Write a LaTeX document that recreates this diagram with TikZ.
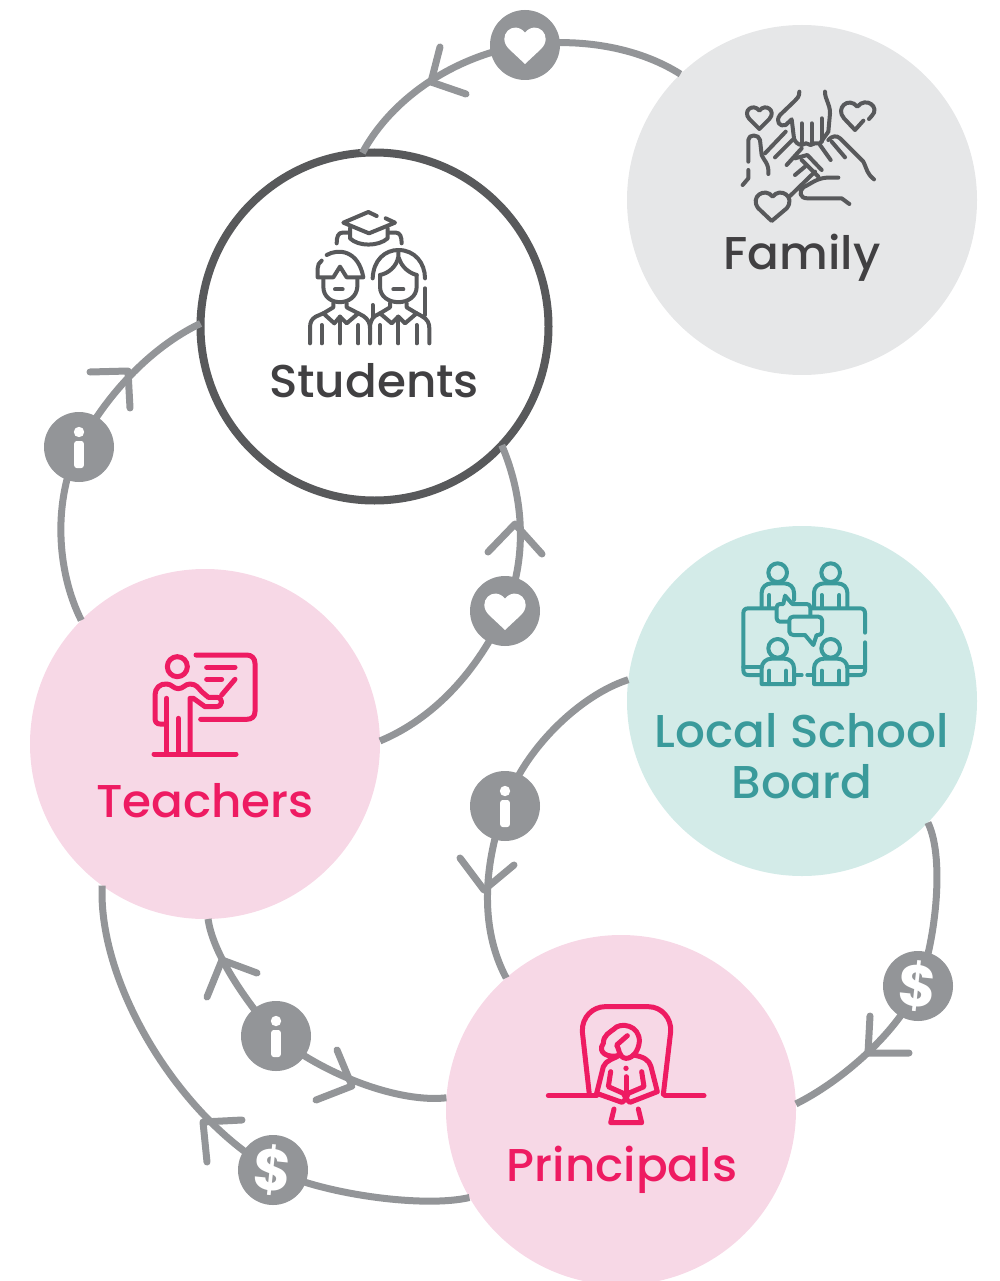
\documentclass[tikz,border=0pt]{standalone}
\usepackage{fontspec}
\setmainfont{Poppins}
\newfontfamily\capfont[FakeStretch=1.02]{Poppins Medium}
\definecolor{conn}{HTML}{939598}
\definecolor{ink}{HTML}{414042}
\definecolor{iconink}{HTML}{58595B}
\definecolor{famfill}{HTML}{E6E7E8}
\definecolor{pinkfill}{HTML}{F7D8E6}
\definecolor{pinkink}{HTML}{EE1B62}
\definecolor{tealfill}{HTML}{D3EBE8}
\definecolor{tealink}{HTML}{3A9A9B}
\tikzset{
  every node/.style={inner sep=0pt,outer sep=0pt},
  actor/.style={circle,minimum size=350pt},
  caption/.style={font=\capfont\fontsize{46}{51}\selectfont,align=center},
  link/.style={draw=conn,line width=7pt},
  head/.style={draw=conn,line width=7pt,line cap=round,line join=round},
  badge/.style={circle,fill=conn,minimum size=70pt},
  dollar/.style={text=white,font=\fontsize{58}{58}\selectfont\bfseries},
  icon/.style={line width=4pt,line cap=round,line join=round,fill=none},
  zoomed/.style={x=0.33333pt,y=-0.33333pt},
}
\newcommand{\heartmark}[1]{%
  \fill[white,shift={(#1)}] (0,19) -- (-16,4) .. controls (-29,-9) and (-12,-26) .. (0,-12.5) .. controls (12,-26) and (29,-9) .. (16,4) -- cycle;}
\newcommand{\infomark}[1]{%
  \fill[white,shift={(#1)}] (0,-15) circle[radius=5.2];
  \fill[white,rounded corners=2.5pt,shift={(#1)}] (-4.8,-6) rectangle (4.8,21);}
\begin{document}
\begin{tikzpicture}[x=1pt,y=-1pt]
\useasboundingbox (0,0) rectangle (1000,1281);

% actors
\node[actor,fill=famfill] (family) at (802,200) {};
\node[actor,fill=white,draw=iconink,line width=8pt,minimum size=348pt] (students) at (374.5,326.5) {};
\node[actor,fill=pinkfill] (teachers) at (205,744) {};
\node[actor,fill=tealfill] (board) at (802,701) {};
\node[actor,fill=pinkfill] (principals) at (621,1110) {};

% badge positions
\coordinate (bh1) at (525,45);
\coordinate (bi1) at (79,447);
\coordinate (bh2) at (505,611);
\coordinate (bi2) at (505,806);
\coordinate (bd1) at (918,986);
\coordinate (bi3) at (276,1036);
\coordinate (bd2) at (273,1170);

% links
\draw[link] (family.134) .. controls (636,46) and (577,38) .. (bh1) .. controls (461,54) and (394,94) .. (students.94);
\draw[link] (teachers.135) .. controls (56,570) and (53,499) .. (bi1) .. controls (104,398) and (149,348) .. (students.179);
\draw[link] (teachers.1.3) .. controls (435,718) and (478,670) .. (bh2) .. controls (527,560) and (525,500) .. (students.-43.6);
\draw[link] (board.173) .. controls (580,695) and (523,750) .. (bi2) .. controls (485,860) and (478,925) .. (principals.131);
\draw[link] (board.-44) .. controls (946,860) and (934,949) .. (bd1) .. controls (898,1032) and (842,1081) .. (principals.2);
\draw[link] (principals.176.7) .. controls (400,1103) and (326,1076) .. (bi3) .. controls (248,1004) and (213,955) .. (teachers.-89.5);
\draw[link] (principals.-150.6) .. controls (425,1208) and (325,1195) .. (bd2) .. controls (180,1118) and (98,985) .. (teachers.-126.4);

% arrowheads
\draw[head] (440,47) -- (431,82) -- (466,94);
\draw[head] (90,372) -- (128,371) -- (130,408);
\draw[head] (488,552) -- (515,524) -- (542,554);
\draw[head] (460,858) -- (484,890) -- (514,865);
\draw[head] (870,1016) -- (868,1053) -- (909,1053);
\draw[head] (207,997) -- (222,960) -- (257,973);
\draw[head] (337,1050) -- (352,1086) -- (316,1100);
\draw[head] (242,1120) -- (203,1122) -- (207,1162);

% badges
\node[badge] (nh1) at (bh1) {}; \heartmark{bh1}
\node[badge] (ni1) at (bi1) {}; \infomark{bi1}
\node[badge] (nh2) at (bh2) {}; \heartmark{bh2}
\node[badge] (ni2) at (bi2) {}; \infomark{bi2}
\node[badge] (nd1) at (bd1) {};
\node[dollar] (sd1) at (bd1) {\rotatebox{-6}{\$}};
\node[badge] (ni3) at (bi3) {}; \infomark{bi3}
\node[badge] (nd2) at (bd2) {};
\node[dollar] (sd2) at (bd2) {\rotatebox{-6}{\$}};

% captions
\node[caption,text=ink] (tstudents) at (374,381) {Students};
\node[caption,text=ink] (tfamily) at (802,258) {Family};
\node[caption,text=tealink] (tboard) at (802,756) {Local School\\Board};
\node[caption,text=pinkink] (tteachers) at (205,801) {Teachers};
\node[caption,text=pinkink] (tprincipals) at (622,1170) {Principals};

% family icon
\begin{scope}[shift={(720,80)},zoomed,icon,draw=iconink]
\draw (118,147) -- (88,117) .. controls (66,92) and (100,68) .. (118,92) .. controls (136,68) and (170,92) .. (148,117) -- cycle;
\draw (430,122) -- (405,150) -- (372,115) .. controls (345,85) and (385,48) .. (412,80) .. controls (438,48) and (482,82) .. (455,108) -- (447,117);
\draw (155,423) -- (115,385) .. controls (88,350) and (135,320) .. (158,350) .. controls (180,320) and (228,350) .. (200,385) -- cycle;
\draw (238,35) .. controls (238,50) and (232,55) .. (225,62) -- (180,105) .. controls (165,125) and (180,142) .. (197,135) -- (215,118) -- (222,175) .. controls (224,185) and (235,195) .. (245,195) -- (258,190) -- (272,195) -- (285,190) -- (300,190) -- (325,155) -- (330,100) .. controls (330,70) and (315,60) .. (315,35);
\draw (245,130) -- (245,190);
\draw (275,130) -- (275,190);
\draw (305,115) -- (305,185);
\draw (325,180) .. controls (335,168) and (350,165) .. (360,175) -- (430,245) .. controls (442,270) and (440,280) .. (462,298);
\draw (300,195) -- (332,240);
\draw (335,185) -- (375,232);
\draw (85,245) -- (85,180) .. controls (85,162) and (117,162) .. (120,180) -- (125,225) .. controls (130,240) and (148,250) .. (145,282);
\draw (85,270) -- (85,295) -- (68,315);
\draw (135,220) -- (197,155);
\draw (165,232) -- (217,180);
\draw (200,255) -- (245,205);
\draw (225,285) -- (255,260);
\draw (225,235) -- (262,225) -- (305,270);
\draw (245,240) -- (295,290);
\draw (210,348) -- (285,275);
\draw (355,293) -- (320,293) .. controls (290,295) and (275,310) .. (250,322) .. controls (235,335) and (240,355) .. (262,355) -- (365,355) -- (388,372);
\end{scope}

% students icon
\begin{scope}[shift={(295,200)},zoomed,icon,draw=iconink]
\draw (245,48) -- (220,36) -- (145,68) -- (222,100) -- (300,68) -- (272,55);
\draw (165,85) -- (165,115) .. controls (190,140) and (250,140) .. (278,115) -- (278,85);
\draw (160,98) -- (142,98) .. controls (130,98) and (125,110) .. (125,130);
\draw (282,98) -- (303,98) .. controls (315,98) and (320,110) .. (320,130);
\draw (95,165) .. controls (130,145) and (190,150) .. (205,232) -- (155,232) -- (135,200) -- (115,232) -- (68,232) -- (68,205) .. controls (68,195) and (72,188) .. (80,182);
\draw (85,235) -- (85,260) .. controls (85,322) and (183,322) .. (187,260) -- (187,235);
\draw (120,268) -- (143,268);
\draw (115,310) -- (115,322) -- (85,340) -- (118,370) -- (135,350) -- (155,370) -- (190,340) -- (155,322) -- (155,310);
\draw (85,340) -- (62,350) .. controls (50,358) and (45,365) .. (45,385) -- (45,430);
\draw (190,340) -- (205,348) .. controls (220,358) and (225,370) .. (225,385) -- (225,430);
\draw (80,375) -- (80,430);
\draw (135,350) -- (135,430);
\draw (190,375) -- (190,430);
\draw (233,235) .. controls (235,180) and (270,150) .. (310,150) .. controls (360,150) and (390,190) .. (390,235);
\draw (390,265) -- (390,345);
\draw (233,315) -- (233,350);
\draw (310,155) -- (310,170) .. controls (305,200) and (280,220) .. (255,225);
\draw (312,175) .. controls (320,200) and (340,218) .. (365,225);
\draw (255,225) -- (255,260) .. controls (255,322) and (365,322) .. (365,260) -- (365,225);
\draw (295,268) -- (325,268);
\draw (285,310) -- (285,322) -- (255,340) -- (290,370) -- (310,350) -- (330,370) -- (365,340) -- (335,322) -- (335,310);
\draw (255,340) -- (240,348) .. controls (228,358) and (225,370) .. (225,385);
\draw (365,340) -- (380,348) .. controls (398,358) and (403,370) .. (403,385) -- (403,430);
\draw (255,375) -- (255,430);
\draw (310,350) -- (310,430);
\draw (365,375) -- (365,430);
\end{scope}

% board icon
\begin{scope}[shift={(730,550)},zoomed,icon,draw=tealink]
\draw (143,68) circle[radius=28];
\draw (302,68) circle[radius=28];
\draw (143,295) circle[radius=28];
\draw (302,295) circle[radius=28];
\draw (95,170) -- (95,128) .. controls (95,112) and (108,100) .. (125,100) -- (162,100) .. controls (180,100) and (192,112) .. (192,128) -- (192,150);
\draw (252,170) -- (252,128) .. controls (252,112) and (265,100) .. (282,100) -- (322,100) .. controls (340,100) and (352,112) .. (352,128) -- (352,170);
\draw (118,135) -- (118,170);
\draw (275,135) -- (275,170);
\draw (328,135) -- (328,170);
\draw (138,175) -- (55,175) .. controls (45,175) and (40,180) .. (40,190) -- (40,360) .. controls (40,370) and (45,375) .. (55,375) -- (90,375);
\draw (245,175) -- (390,175) .. controls (400,175) and (405,180) .. (405,190) -- (405,248);
\draw (405,277) -- (405,360) .. controls (405,370) and (400,375) .. (390,375) -- (355,375);
\draw (40,350) -- (90,350);
\draw (355,350) -- (405,350);
\draw (195,375) -- (215,375);
\draw (232,375) -- (250,375);
\draw (172,215) -- (150,215) .. controls (144,215) and (140,211) .. (140,205) -- (140,172) .. controls (140,166) and (144,162) .. (150,162) -- (160,162) -- (165,137) -- (187,162) -- (230,162) .. controls (236,162) and (241,166) .. (241,172) -- (241,198);
\draw (190,200) -- (265,200) .. controls (271,200) and (276,204) .. (276,210) -- (276,245) .. controls (276,251) and (271,255) .. (265,255) -- (260,255) -- (250,285) -- (225,255) -- (190,255) .. controls (184,255) and (178,251) .. (178,245) -- (178,210) .. controls (178,204) and (184,200) .. (190,200) -- cycle;
\draw (95,402) -- (95,355) .. controls (95,338) and (108,326) .. (125,326) -- (162,326) .. controls (180,326) and (192,338) .. (192,355) -- (192,402) -- cycle;
\draw (252,402) -- (252,355) .. controls (252,338) and (265,326) .. (282,326) -- (322,326) .. controls (340,326) and (352,338) .. (352,355) -- (352,402) -- cycle;
\draw (118,362) -- (118,402);
\draw (168,362) -- (168,402);
\draw (275,362) -- (275,402);
\draw (328,362) -- (328,402);
\end{scope}

% teacher icon
\begin{scope}[shift={(140,640)},zoomed,icon,draw=pinkink,line width=5pt]
\draw (112,80) circle[radius=30];
\draw (168,45) -- (320,45) .. controls (335,45) and (345,55) .. (345,70) -- (345,215) .. controls (345,230) and (335,238) .. (320,238) -- (182,238);
\draw (200,82) -- (285,82);
\draw (200,118) -- (245,118);
\draw (285,118) -- (245,165);
\draw (78,252) -- (60,252) .. controls (50,252) and (45,245) .. (45,235) -- (45,165) .. controls (45,145) and (60,130) .. (80,132) .. controls (95,132) and (100,146) .. (115,146) .. controls (130,146) and (135,132) .. (150,132) .. controls (170,132) and (175,145) .. (185,155) -- (205,172) -- (230,172) .. controls (250,172) and (250,200) .. (228,200) -- (195,200) -- (160,175) -- (150,175) -- (150,342);
\draw (80,175) -- (80,342);
\draw (115,235) -- (115,342);
\draw (42,342) -- (288,342);
\end{scope}

% principal icon
\begin{scope}[shift={(540,995)},zoomed,icon,draw=pinkink,line width=5pt]
\draw (148,298) -- (127,110) .. controls (125,65) and (160,35) .. (195,35) -- (325,35) .. controls (365,35) and (395,70) .. (392,110) -- (370,298);
\draw (25,302) -- (170,302);
\draw (375,302) -- (492,302);
\draw (222,342) -- (212,383) -- (305,383) -- (295,342);
\draw (170,295) -- (190,215) .. controls (197,195) and (225,190) .. (240,180);
\draw (280,180) .. controls (310,185) and (328,195) .. (333,215) -- (352,290) -- (270,322) -- (258,312) -- (246,322) -- (170,295);
\draw (212,230) -- (205,275) -- (250,295) -- (258,310) -- (265,295) -- (312,275) -- (305,230);
\draw (258,245) -- (258,305);
\fill[pinkink] (258,220) circle[radius=8];
\draw (240,180) .. controls (205,192) and (170,172) .. (190,145) .. controls (190,120) and (210,112) .. (222,102) .. controls (240,80) and (300,90) .. (298,140) .. controls (296,165) and (280,190) .. (258,190) .. controls (235,188) and (238,160) .. (230,150) -- (262,122);
\end{scope}
\end{tikzpicture}
\end{document}
